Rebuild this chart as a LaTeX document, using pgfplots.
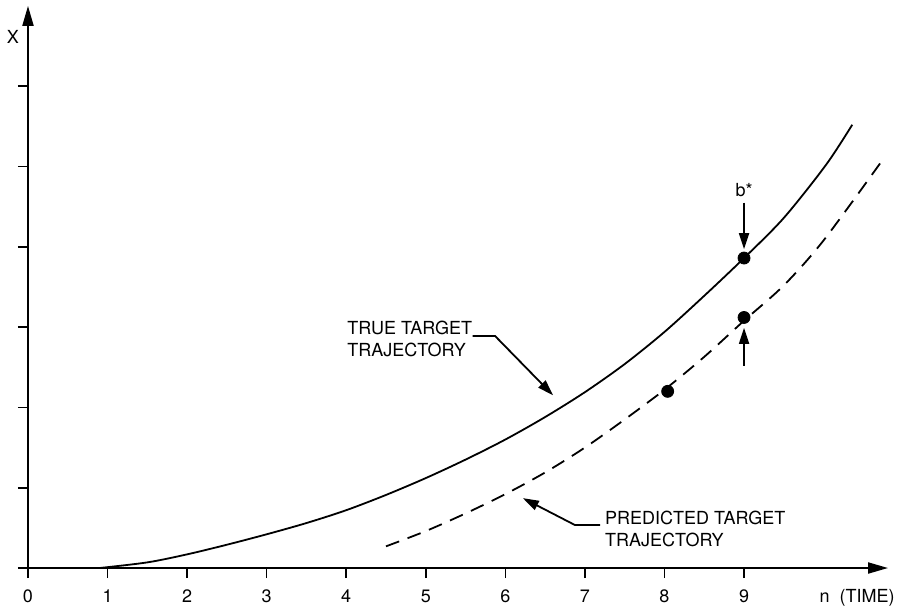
\documentclass[border=0pt]{standalone}
\usepackage{pgfplots}
\pgfplotsset{compat=1.18}
\usepackage{fontspec}
\setmainfont{TeX Gyre Heros}
\usetikzlibrary{arrows.meta}

\begin{document}
\begin{tikzpicture}[font=\fontsize{9}{11}\selectfont]
\path[use as bounding box] (-14pt,-19.5pt) rectangle (436pt,284pt);
\begin{axis}[
  at={(0,0)}, anchor=south west,
  x=39.78pt, y=40.15pt,
  xmin=0, xmax=10.81, ymin=0, ymax=7.0,
  enlargelimits=false,
  axis lines=left,
  axis line style={line width=1pt, -{Triangle[length=10pt,width=5.5pt]}},
  xtick={0,...,9}, ytick={0,...,6},
  yticklabels={},
  tick align=outside,
  major tick length=5pt,
  tick style={line width=0.8pt, black},
  /pgf/number format/assume math mode=true,
  xticklabel style={font=\fontsize{9}{11}\selectfont, yshift=-2.5pt},
  clip=false,
]
\addplot[smooth, line width=0.9pt] coordinates {
(0.9,0) (1.5,0.07) (2,0.17) (2.5,0.29) (3,0.42) (3.5,0.56) (4,0.72) (4.5,0.91)
(5,1.12) (5.5,1.35) (6,1.60) (6.5,1.88) (7,2.19) (7.5,2.54) (8,2.94) (8.5,3.39)
(9,3.86) (9.5,4.36) (10.03,5.02) (10.36,5.52)};
\addplot[smooth, line width=0.9pt, dash pattern=on 7pt off 4.5pt] coordinates {
(4.5,0.27) (5,0.46) (5.5,0.68) (6,0.92) (6.5,1.19) (7,1.50) (7.5,1.85) (8,2.22)
(8.5,2.63) (9,3.08) (9.5,3.52) (10,4.08) (10.74,5.08)};
\addplot[only marks, mark=*, mark size=3pt] coordinates {(9,3.86) (9,3.12) (8.04,2.20)};

\draw[line width=0.9pt, -{Triangle[length=8pt,width=5pt]}] (axis cs:9,4.55) -- (axis cs:9,3.97);
\draw[line width=0.9pt, -{Triangle[length=8pt,width=5pt]}] (axis cs:9,2.52) -- (axis cs:9,2.99);
\node at (axis cs:9,4.71) {b*};

\draw[line width=0.9pt, -{Triangle[length=8pt,width=5pt]}] (axis cs:5.59,2.89) -- (axis cs:5.87,2.89) -- (axis cs:6.6,2.15);
\node[anchor=west, align=left, inner sep=0pt] at (axis cs:4.01,2.85) {TRUE TARGET\\TRAJECTORY};

\draw[line width=0.9pt, -{Triangle[length=8pt,width=5pt]}] (axis cs:7.19,0.535) -- (axis cs:6.875,0.535) -- (axis cs:6.22,0.87);
\node[anchor=west, align=left, inner sep=0pt] at (axis cs:7.25,0.485) {PREDICTED TARGET\\TRAJECTORY};

\node at (axis cs:-0.19,6.61) {X};
\node at (axis cs:10.42,-0.37) {n\ \ (TIME)};
\end{axis}
\end{tikzpicture}
\end{document}
